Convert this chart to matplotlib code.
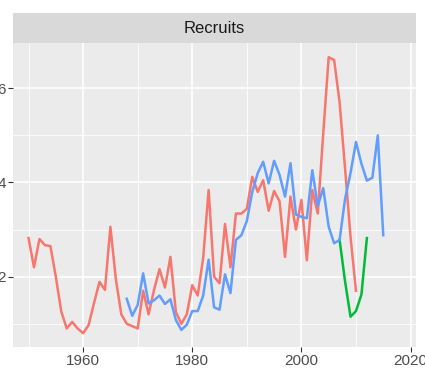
import numpy as np
import matplotlib
matplotlib.use("Agg")
import matplotlib.pyplot as plt
from matplotlib.ticker import MultipleLocator

# --- data ---
red_years = list(range(1950, 2011))
red_vals = [2.82, 2.2, 2.8, 2.67, 2.65, 2.0, 1.26, 0.9, 1.04, 0.9,
            0.8, 0.97, 1.44, 1.89, 1.72, 3.06, 1.95, 1.2, 1.0, 0.95,
            0.9, 1.7, 1.2, 1.72, 2.16, 1.77, 2.42, 1.25, 1.0, 1.2,
            1.82, 1.6, 2.4, 3.84, 2.0, 1.86, 3.12, 2.2, 3.34, 3.34,
            3.44, 4.12, 3.8, 4.05, 3.4, 3.82, 3.6, 2.42, 3.7, 3.0,
            3.63, 2.35, 3.84, 3.34, 5.04, 6.66, 6.6, 5.7, 4.3, 2.85,
            1.7]

blue_years = list(range(1968, 2016))
blue_vals = [1.53, 1.17,
             1.4, 2.07, 1.43, 1.5, 1.6, 1.42, 1.52, 1.08, 0.87, 0.98,
             1.27, 1.27, 1.6, 2.36, 1.35, 1.3, 2.05, 1.65, 2.78, 2.88,
             3.18, 3.8, 4.2, 4.44, 3.98, 4.46, 4.16, 3.7, 4.41, 3.32,
             3.27, 3.24, 4.26, 3.5, 3.88, 3.06, 2.71, 2.78, 3.65, 4.2,
             4.86, 4.4, 4.04, 4.1, 5.0, 2.88]

green_years = list(range(2007, 2013))
green_vals = [2.78, 1.9, 1.15, 1.27, 1.62, 2.82]

plt.rcParams["font.family"] = ["Liberation Sans", "DejaVu Sans"]

fig = plt.figure(figsize=(4.25, 3.72), dpi=100)
W, H = 425, 372
left, right, top, bottom = 12.7, 416, 43.3, 347
ax = fig.add_axes([left / W, (H - bottom) / H, (right - left) / W, (bottom - top) / H])
ax.set_facecolor("#EBEBEB")

ax.plot(red_years, red_vals, color="#F8766D", lw=1.8, solid_joinstyle="round")
ax.plot(green_years, green_vals, color="#00BA38", lw=1.8, solid_joinstyle="round")
ax.plot(blue_years, blue_vals, color="#619CFF", lw=1.8, solid_joinstyle="round")

ax.set_xlim(1947.1, 2021.0)
ax.set_ylim(0.507, 6.955)
ax.xaxis.set_major_locator(MultipleLocator(20))
ax.xaxis.set_minor_locator(MultipleLocator(10))
ax.yaxis.set_major_locator(MultipleLocator(2))
ax.yaxis.set_minor_locator(MultipleLocator(1))
ax.grid(which="major", color="white", lw=1.2)
ax.grid(which="minor", color="white", lw=0.6)
ax.set_axisbelow(True)
for s in ax.spines.values():
    s.set_visible(False)
ax.tick_params(which="major", length=3.5, width=0.8, color="#333333",
               labelsize=11, labelcolor="#4D4D4D", pad=1.5)
ax.tick_params(which="minor", length=0)

# facet strip
strip = fig.add_axes([left / W, (H - top) / H, (right - left) / W, 30.3 / H])
strip.set_facecolor("#D9D9D9")
strip.set_xticks([])
strip.set_yticks([])
for s in strip.spines.values():
    s.set_visible(False)
strip.text(0.5, 0.5, "Recruits", ha="center", va="center",
           fontsize=12, color="#1A1A1A", transform=strip.transAxes)

fig.savefig("out.png", dpi=100)
